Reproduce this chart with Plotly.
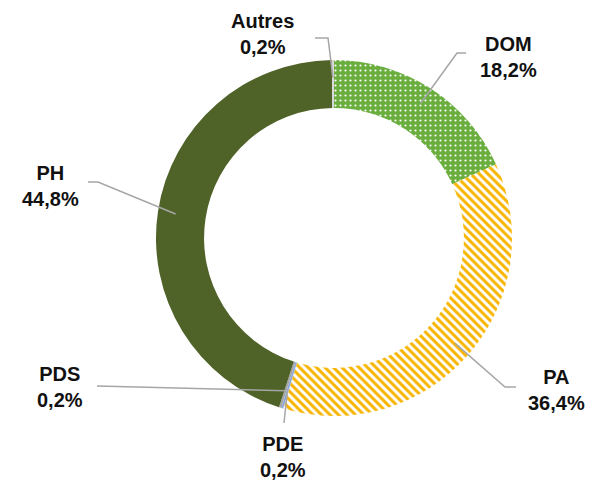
import math
import plotly.graph_objects as go

# ---- data ----
categories = ["DOM", "PA", "PDE", "PDS", "PH", "Autres"]
shares = [18.2, 36.4, 0.2, 0.2, 44.8, 0.2]
colors = ["#6AAE3E", "#FFFFFF", "#8EA9DB", "#A5A5A5", "#4F6228", "#D9D9D9"]
pattern_shapes = [".", "\\", "", "", "", ""]
pattern_fg = ["#FFFFFF", "#F7B500", "#8EA9DB", "#A5A5A5", "#4F6228", "#D9D9D9"]

# page body has an 8px default margin; figure sized to fill the rest of the window
OFF = 8
W, H = 594 - OFF, 484 - OFF
CX, CY, R = 334, 238, 178   # pie centre / radius in window px (layout)
HOLE = 0.73
LEADER_R = 0.9              # fraction of radius where leaders touch the ring

# label layout (window px): text centre, knee, end of leader
label_pos = {
    "Autres": dict(text=(262, 34), knee=(328, 38), end=(315, 38)),
    "DOM":    dict(text=(508, 57), knee=(457, 53), end=(466, 53)),
    "PA":     dict(text=(556, 390), knee=(505, 387), end=(516, 387)),
    "PDE":    dict(text=(283, 457), knee=(284, 423), end=(284, 423)),
    "PDS":    dict(text=(60, 387), knee=(97, 386), end=(97, 386)),
    "PH":     dict(text=(50, 186), knee=(98, 182), end=(88, 182)),
}

def px2paper(x, y):
    return (x - OFF) / W, 1 - (y - OFF) / H

x0, y1 = px2paper(CX - R, CY - R)
x1, y0 = px2paper(CX + R, CY + R)

fig = go.Figure(go.Pie(
    labels=categories,
    values=shares,
    sort=False,
    direction="clockwise",
    rotation=0,
    hole=HOLE,
    textinfo="none",
    hoverinfo="label+percent",
    marker=dict(
        colors=colors,
        line=dict(width=0),
        pattern=dict(
            shape=pattern_shapes,
            fgcolor=pattern_fg,
            bgcolor=colors,
            size=[5, 6, 6, 6, 6, 6],
            solidity=[0.15, 0.5, 0.5, 0.5, 0.5, 0.5],
            fillmode="replace",
        ),
    ),
    domain=dict(x=[x0, x1], y=[y0, y1]),
    showlegend=False,
))

total = sum(shares)
cum = 0.0
shapes = []
annotations = []
for cat, v in zip(categories, shares):
    mid = (cum + v / 2) / total * 2 * math.pi
    cum += v
    rx = CX + LEADER_R * R * math.sin(mid)
    ry = CY - LEADER_R * R * math.cos(mid)
    lp = label_pos[cat]
    pts = [px2paper(rx, ry), px2paper(*lp["knee"]), px2paper(*lp["end"])]
    path = "M {} {} L {} {} L {} {}".format(
        pts[0][0], pts[0][1], pts[1][0], pts[1][1], pts[2][0], pts[2][1])
    shapes.append(dict(type="path", xref="paper", yref="paper", path=path,
                       line=dict(color="#A6A6A6", width=1.5)))
    tx, ty = px2paper(*lp["text"])
    pct = f"{v:.1f}".replace(".", ",") + "%"
    annotations.append(dict(
        x=tx, y=ty, xref="paper", yref="paper", xanchor="center", yanchor="middle",
        text=f"<b>{cat}<br>{pct}</b>", showarrow=False, align="center",
        font=dict(family="Liberation Sans, Arial, sans-serif", size=20, color="#111111"),
    ))

fig.update_layout(
    width=W, height=H,
    margin=dict(l=0, r=0, t=0, b=0),
    paper_bgcolor="white",
    plot_bgcolor="white",
    shapes=shapes,
    annotations=annotations,
)

fig.write_html("out.html")
